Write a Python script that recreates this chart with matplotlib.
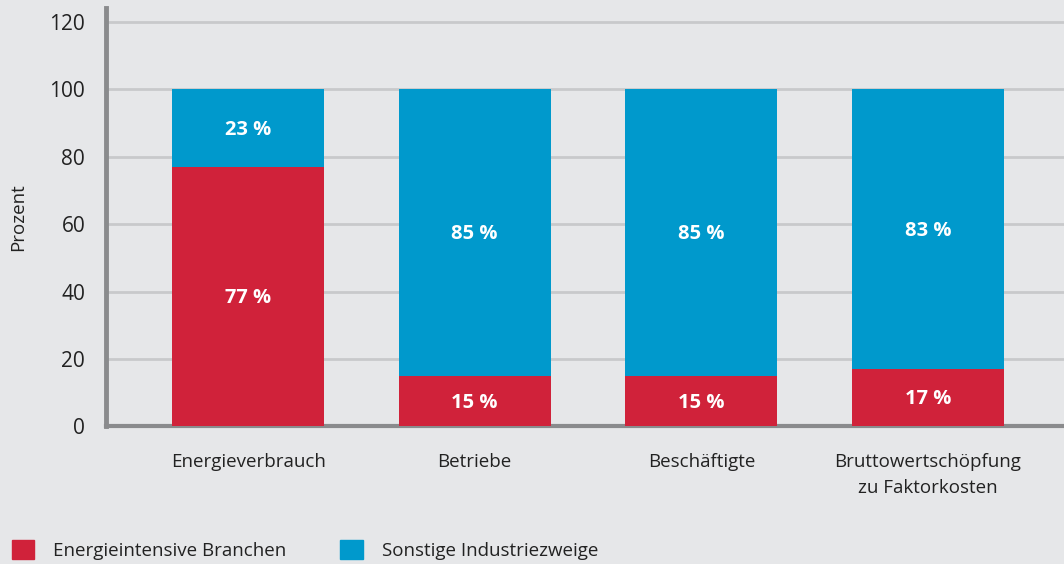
import numpy as np
import matplotlib.pyplot as plt
from matplotlib.patches import Patch

# data
categories = ["Energieverbrauch", "Betriebe", "Beschäftigte",
              "Bruttowertschöpfung\nzu Faktorkosten"]
energieintensiv = [77, 15, 15, 17]
sonstige = [23, 85, 85, 83]
series_names = ["Energieintensive Branchen", "Sonstige Industriezweige"]

red = "#d0223a"
blue = "#0099cc"
bg = "#e6e7e9"

plt.rcParams['font.family'] = ['Open Sans', 'DejaVu Sans']

fig = plt.figure(figsize=(10.64, 5.64), dpi=100, facecolor=bg)
ax = fig.add_axes([0.0996, 0.2438, 0.9004, 0.742])
ax.set_facecolor(bg)

x = np.arange(len(categories))
w = 0.67
ax.bar(x, energieintensiv, w, color=red, zorder=3)
ax.bar(x, sonstige, w, bottom=energieintensiv, color=blue, zorder=3)

for i in range(len(x)):
    ax.text(x[i], energieintensiv[i] / 2 - 0.5, f"{energieintensiv[i]} %", ha='center',
            va='center', color='white', fontsize=14.5, fontweight='bold', zorder=4)
    ax.text(x[i], energieintensiv[i] + sonstige[i] / 2 - 0.5, f"{sonstige[i]} %", ha='center',
            va='center', color='white', fontsize=14.5, fontweight='bold', zorder=4)

ax.set_xlim(-0.627, 3.6)
ax.set_ylim(0, 124)
ax.set_yticks([0, 20, 40, 60, 80, 100, 120])
ax.set_xticks(x)
ax.set_xticklabels(categories, fontsize=13.5, color='#222222', linespacing=1.55)
ax.tick_params(axis='y', length=0, labelsize=15, pad=15, colors='#222222')
ax.tick_params(axis='x', length=0, pad=19)
ax.grid(axis='y', color='#c8c9cb', linewidth=2, zorder=0)
ax.set_ylabel("Prozent", fontsize=13.5, color='#222222', labelpad=16)

for s in ['top', 'right']:
    ax.spines[s].set_visible(False)
ax.spines['left'].set_color('#8a8b8d')
ax.spines['left'].set_linewidth(3.5)
ax.spines['bottom'].set_color('#8a8b8d')
ax.spines['bottom'].set_linewidth(3)

handles = [Patch(color=red), Patch(color=blue)]
fig.legend(handles, series_names, loc='lower left', bbox_to_anchor=(-0.005, -0.022),
           ncol=2, frameon=False, fontsize=13.5, handlelength=1.2, handleheight=1.2,
           handletextpad=1.0, columnspacing=2.9, labelcolor='#222222')

fig.savefig("out.png", dpi=100, facecolor=bg)
